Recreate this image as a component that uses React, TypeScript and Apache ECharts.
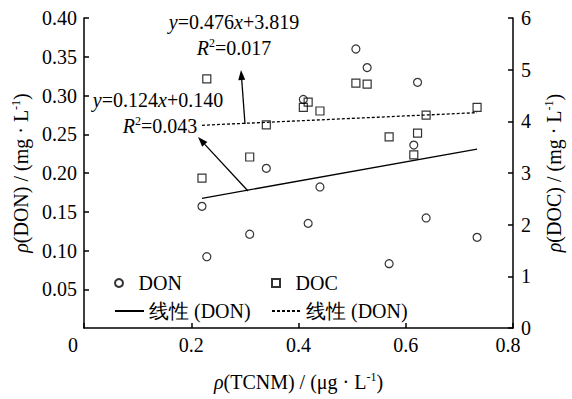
import React, { useEffect, useRef } from "react";
import * as echarts from "echarts";

// Sample TCNM concentrations (μg/L)
const tcnm = [0.220, 0.229, 0.309, 0.340, 0.409, 0.418, 0.440, 0.507, 0.528, 0.569, 0.615, 0.622, 0.638, 0.733];
// DON (mg/L), left axis
const donValues = [0.157, 0.092, 0.121, 0.206, 0.295, 0.135, 0.182, 0.360, 0.336, 0.083, 0.236, 0.317, 0.142, 0.117];
// DOC (mg/L), right axis
const docValues = [2.90, 4.82, 3.31, 3.93, 4.27, 4.37, 4.20, 4.74, 4.72, 3.70, 3.35, 3.77, 4.12, 4.27];

// Fitted lines as printed on the chart
const donFit = { slope: 0.124, intercept: 0.140, r2: "0.043" };
const docFit = { slope: 0.476, intercept: 3.819, r2: "0.017" };
const fitRange = [0.220, 0.733];

const xTicks = { min: 0, max: 0.8, interval: 0.2 };
const yLeftTicks = { min: 0, max: 0.4, interval: 0.05 };
const yRightTicks = { min: 0, max: 6, interval: 1 };

const FONT = "Liberation Serif";
const FS = 20;

function arrow(x1: number, y1: number, x2: number, y2: number) {
  const dx = x2 - x1;
  const dy = y2 - y1;
  const len = Math.sqrt(dx * dx + dy * dy);
  const ux = dx / len;
  const uy = dy / len;
  const hl = 10;
  const hw = 3.5;
  const bx = x2 - ux * hl;
  const by = y2 - uy * hl;
  return [
    {
      type: "line",
      shape: { x1, y1, x2: bx, y2: by },
      style: { stroke: "#000", lineWidth: 1.3 },
    },
    {
      type: "polygon",
      shape: {
        points: [
          [x2, y2],
          [bx - uy * hw, by + ux * hw],
          [bx + uy * hw, by - ux * hw],
        ],
      },
      style: { fill: "#000" },
    },
  ];
}

const noBorder = { textBorderWidth: 0, textBorderColor: "transparent", textShadowBlur: 0 };
const labelText = { fontFamily: FONT, fontSize: FS, fontWeight: "normal", color: "#000", ...noBorder };

const richBase = {
  i: { ...labelText, fontStyle: "italic", lineHeight: 22 },
  s: { ...labelText, fontSize: 12, verticalAlign: "top", lineHeight: 22 },
  n: { ...labelText, lineHeight: 22 },
};

const hiddenSymbol = { color: "rgba(0,0,0,0)", borderColor: "rgba(0,0,0,0)", borderWidth: 0 };

export default function App() {
  const ref = useRef<HTMLDivElement>(null);
  useEffect(() => {
    if (!ref.current) return;
    const chart = echarts.init(ref.current, undefined, { renderer: "svg" });
    const donData = tcnm.map((x, i) => [x, donValues[i]]);
    const docData = tcnm.map((x, i) => [x, docValues[i]]);
    const donLine = fitRange.map((x) => [x, donFit.slope * x + donFit.intercept]);
    const docLine = fitRange.map((x) => [x, docFit.slope * x + docFit.intercept]);

    const axisCommon = {
      axisLine: { show: true, lineStyle: { color: "#000", width: 1.5 } },
      axisTick: { show: true, inside: true, length: 5, lineStyle: { color: "#000", width: 1.5 } },
      splitLine: { show: false },
    };

    const legendBase = {
      orient: "horizontal",
      itemWidth: 29,
      itemHeight: 8,
      textStyle: { ...labelText },
      selectedMode: false,
    };

    chart.setOption({
      animation: false,
      backgroundColor: "#fff",
      textStyle: { fontFamily: FONT, fontSize: FS, color: "#000" },
      grid: { left: 84, right: 50, top: 18, bottom: 71, containLabel: false },
      xAxis: {
        type: "value",
        ...xTicks,
        ...axisCommon,
        axisLabel: {
          ...labelText,
          margin: 7,
          formatter: (v: number) =>
            v === 0 ? "{a|0}" : Math.abs(v - 0.8) < 1e-9 ? "{b|0.8}" : "{c|" + String(+v.toFixed(1)) + "}",
          rich: {
            a: { ...labelText, padding: [0, 22, 0, 0] },
            b: { ...labelText, padding: [0, 10, 0, 0] },
            c: { ...labelText },
          },
        },
        name: "{i|ρ}{n|(TCNM) / (μg · L}{s|-1}{n|)}",
        nameLocation: "middle",
        nameGap: 43,
        nameTextStyle: { ...labelText, rich: richBase },
      },
      yAxis: [
        {
          type: "value",
          position: "left",
          ...yLeftTicks,
          ...axisCommon,
          axisLabel: {
            ...labelText,
            margin: 7,
            showMinLabel: false,
            formatter: (v: number) => "{c|" + v.toFixed(2) + "}",
            rich: { c: { ...labelText } },
          },
          name: "{i|ρ}{n|(DON) / (mg · L}{s|-1}{n|)}",
          nameLocation: "middle",
          nameGap: 52,
          nameTextStyle: { ...labelText, rich: richBase },
        },
        {
          type: "value",
          position: "right",
          ...yRightTicks,
          ...axisCommon,
          axisLabel: {
            ...labelText,
            margin: 8,
            formatter: (v: number) => "{c|" + v + "}",
            rich: { c: { ...labelText } },
          },
          name: "{i|ρ}{n|(DOC) / (mg · L}{s|-1}{n|)}",
          nameLocation: "middle",
          nameGap: 30,
          nameRotate: 90,
          nameTextStyle: { ...labelText, rich: richBase },
        },
      ],
      legend: [
        { ...legendBase, left: 109, top: 268, data: ["DON"] },
        {
          ...legendBase,
          left: 266,
          top: 268,
          data: [{ name: "DOC", icon: "path://M0,0H10V10H0Z" }],
        },
        {
          ...legendBase,
          itemHeight: 14,
          left: 109,
          top: 296,
          data: [{ name: "fitDON", itemStyle: hiddenSymbol }],
          formatter: () => "线性 (DON)",
        },
        {
          ...legendBase,
          itemHeight: 14,
          left: 266,
          top: 296,
          data: [{ name: "fitDOC", itemStyle: hiddenSymbol }],
          formatter: () => "线性 (DON)",
        },
      ],
      series: [
        {
          name: "DON",
          type: "scatter",
          yAxisIndex: 0,
          data: donData,
          symbol: "circle",
          symbolSize: 8,
          itemStyle: { color: "rgba(255,255,255,0)", borderColor: "#000", borderWidth: 1.2 },
        },
        {
          name: "DOC",
          type: "scatter",
          yAxisIndex: 1,
          data: docData,
          symbol: "rect",
          symbolSize: 8,
          itemStyle: { color: "rgba(255,255,255,0)", borderColor: "#000", borderWidth: 1.2 },
        },
        {
          name: "fitDON",
          type: "line",
          yAxisIndex: 0,
          data: donLine,
          symbol: "none",
          lineStyle: { color: "#000", width: 1.3, type: "solid" },
          itemStyle: { color: "#000" },
        },
        {
          name: "fitDOC",
          type: "line",
          yAxisIndex: 1,
          data: docLine,
          symbol: "none",
          lineStyle: { color: "#000", width: 1.3, type: [3, 2] },
          itemStyle: { color: "#000" },
        },
      ],
      graphic: [
        {
          type: "text",
          x: 234,
          y: 22,
          style: {
            text: `{i|y}{n|=${docFit.slope.toFixed(3)}}{i|x}{n|+${docFit.intercept.toFixed(3)}}`,
            rich: richBase,
            align: "center",
            verticalAlign: "middle",
          },
        },
        {
          type: "text",
          x: 234,
          y: 48,
          style: {
            text: `{i|R}{s|2}{n|=${docFit.r2}}`,
            rich: richBase,
            align: "center",
            verticalAlign: "middle",
          },
        },
        {
          type: "text",
          x: 158,
          y: 100,
          style: {
            text: `{i|y}{n|=${donFit.slope.toFixed(3)}}{i|x}{n|+${donFit.intercept.toFixed(3)}}`,
            rich: richBase,
            align: "center",
            verticalAlign: "middle",
          },
        },
        {
          type: "text",
          x: 160,
          y: 126,
          style: {
            text: `{i|R}{s|2}{n|=${donFit.r2}}`,
            rich: richBase,
            align: "center",
            verticalAlign: "middle",
          },
        },
        ...arrow(245, 124, 241, 70),
        ...arrow(248, 191, 198, 137),
      ],
    });
    return () => chart.dispose();
  }, []);
  return (
    <div
      ref={ref}
      style={{ position: "fixed", left: 0, top: 0, width: 572, height: 399, background: "#fff" }}
    />
  );
}
